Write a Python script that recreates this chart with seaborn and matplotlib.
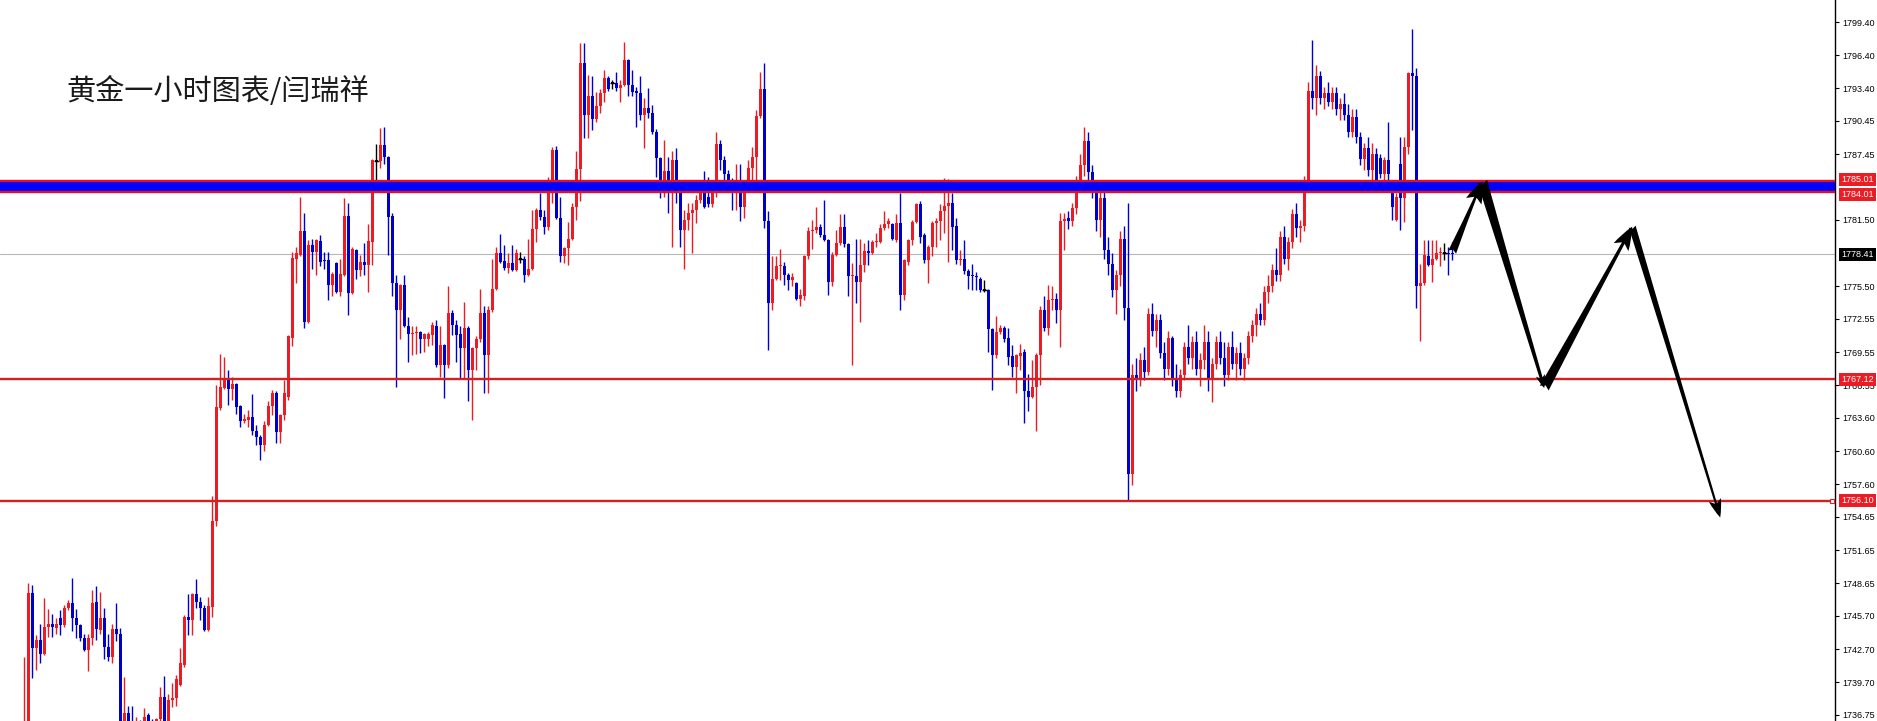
import numpy as np
import pandas as pd
import matplotlib
matplotlib.use("Agg")
import matplotlib.pyplot as plt
import matplotlib.transforms as mtransforms
import seaborn as sns

# hourly gold candles (one entry per candle)
opens = [
    1733.0, 1734.0, 1747.8, 1742.8, 1743.5, 1742.3, 1744.7, 1745.0, 1744.6, 1745.5,
    1744.9, 1746.4, 1746.9, 1745.5, 1744.9, 1743.7, 1742.6, 1743.7, 1747.0, 1744.4,
    1745.5, 1742.9, 1742.0, 1744.5, 1744.1, 1735.8, 1736.9, 1736.0, 1735.5, 1735.8,
    1735.6, 1736.7, 1735.9, 1735.6, 1736.4, 1738.4, 1735.8, 1738.1, 1738.3, 1739.5,
    1741.3, 1745.6, 1745.3, 1747.7, 1747.0, 1746.4, 1744.4, 1746.5, 1754.3, 1764.5,
    1766.3, 1767.2, 1766.2, 1766.7, 1764.7, 1763.3, 1763.4, 1763.7, 1762.4, 1761.9,
    1761.2, 1763.0, 1764.7, 1765.9, 1762.3, 1763.9, 1765.5, 1770.8, 1778.0, 1778.3,
    1780.5, 1772.3, 1779.2, 1778.6, 1779.6, 1777.9, 1777.9, 1775.6, 1777.6, 1775.0,
    1776.5, 1781.9, 1774.9, 1778.8, 1777.0, 1777.7, 1777.4, 1779.5, 1786.8, 1786.8,
    1788.3, 1787.2, 1781.9, 1775.8, 1773.4, 1775.6, 1771.9, 1771.2, 1771.3, 1771.4,
    1770.7, 1770.7, 1771.1, 1771.9, 1768.4, 1770.2, 1768.4, 1773.1, 1772.0, 1771.2,
    1769.9, 1771.7, 1767.9, 1769.9, 1770.7, 1773.1, 1769.3, 1773.4, 1775.3, 1778.5,
    1777.8, 1777.2, 1777.6, 1777.0, 1778.0, 1778.0, 1776.5, 1777.1, 1780.7, 1782.4,
    1781.8, 1780.9, 1784.5, 1787.8, 1781.7, 1778.2, 1779.0, 1779.8, 1782.7, 1786.1,
    1795.7, 1791.0, 1792.7, 1790.6, 1791.8, 1793.0, 1794.3, 1793.9, 1793.9, 1793.4,
    1793.7, 1796.0, 1793.7, 1793.2, 1793.0, 1791.0, 1791.6, 1791.2, 1789.5, 1787.1,
    1785.1, 1785.9, 1785.0, 1786.9, 1784.5, 1780.6, 1781.5, 1782.1, 1782.4, 1783.3,
    1783.9, 1783.6, 1782.9, 1783.9, 1788.4, 1786.9, 1785.7, 1785.0, 1784.5, 1784.7,
    1782.7, 1784.4, 1786.2, 1787.2, 1790.9, 1793.3, 1781.4, 1774.0, 1776.2, 1777.3,
    1777.3, 1776.5, 1776.1, 1775.8, 1774.4, 1774.6, 1778.2, 1780.5, 1780.6, 1780.9,
    1780.1, 1779.7, 1775.9, 1778.3, 1779.4, 1780.9, 1779.3, 1776.4, 1776.4, 1775.9,
    1777.4, 1778.7, 1778.5, 1779.5, 1779.5, 1780.8, 1781.1, 1781.1, 1779.7, 1781.2,
    1774.7, 1777.7, 1779.7, 1781.3, 1782.9, 1780.1, 1777.9, 1779.1, 1781.2, 1781.4,
    1782.3, 1782.8, 1783.0, 1781.0, 1777.9, 1778.0, 1776.9, 1776.5, 1776.4, 1776.2,
    1775.2, 1775.2, 1771.6, 1769.3, 1771.4, 1771.7, 1770.8, 1769.2, 1768.2, 1769.2,
    1769.6, 1766.0, 1765.5, 1766.4, 1769.3, 1773.4, 1771.7, 1774.3, 1774.4, 1773.4,
    1781.4, 1781.7, 1781.4, 1782.6, 1784.8, 1786.5, 1788.6, 1785.8, 1784.2, 1781.5,
    1783.5, 1778.8, 1777.5, 1775.2, 1776.5, 1779.8, 1773.5, 1758.5, 1767.5, 1767.0,
    1768.8, 1767.8, 1773.0, 1771.5, 1772.5, 1769.5, 1768.0, 1770.8, 1767.2, 1766.0,
    1767.5, 1770.0, 1769.0, 1770.5, 1768.0, 1768.8, 1770.5, 1767.0, 1768.5, 1770.5,
    1769.0, 1767.5, 1770.0, 1768.5, 1769.5, 1768.0, 1769.0, 1771.0, 1772.0, 1773.0,
    1772.5, 1775.0, 1775.5, 1777.0, 1776.5, 1780.0, 1778.0, 1779.5, 1782.0, 1780.8,
    1781.0, 1785.0, 1793.2, 1792.5, 1794.5, 1792.5, 1793.0, 1792.2, 1793.0, 1791.5,
    1792.0, 1791.0, 1789.5, 1790.8, 1789.0, 1787.0, 1788.0, 1786.0, 1787.5, 1787.1,
    1785.7, 1786.9, 1783.9, 1781.5, 1786.6, 1783.5, 1788.1, 1794.8, 1794.5, 1775.5,
    1775.8, 1778.2, 1777.4, 1778.0, 1778.5, 1778.5, 1778.5, 1778.5,
]
highs = [
    1742.0, 1748.7, 1748.5, 1744.0, 1745.0, 1747.3, 1746.3, 1745.9, 1745.5, 1746.2,
    1746.7, 1747.1, 1749.1, 1746.3, 1745.0, 1744.1, 1744.1, 1748.0, 1748.4, 1747.9,
    1746.4, 1744.1, 1745.0, 1746.9, 1744.6, 1740.2, 1737.6, 1737.6, 1736.6, 1736.3,
    1737.4, 1736.9, 1736.4, 1736.5, 1739.3, 1740.3, 1738.6, 1739.6, 1740.4, 1742.8,
    1745.8, 1747.7, 1747.8, 1749.0, 1747.4, 1746.7, 1747.4, 1756.5, 1766.6, 1769.4,
    1769.1, 1767.9, 1767.3, 1766.8, 1764.8, 1764.0, 1764.3, 1765.8, 1763.0, 1762.1,
    1763.3, 1765.1, 1766.1, 1766.0, 1764.0, 1767.0, 1771.1, 1778.6, 1779.1, 1783.6,
    1782.1, 1779.7, 1779.8, 1779.8, 1780.1, 1778.6, 1778.6, 1776.8, 1777.7, 1778.0,
    1783.5, 1783.0, 1779.1, 1778.9, 1778.3, 1779.4, 1781.1, 1787.0, 1788.4, 1789.8,
    1789.9, 1787.3, 1782.1, 1776.5, 1775.7, 1776.5, 1772.7, 1771.9, 1771.9, 1771.5,
    1771.3, 1771.4, 1772.3, 1772.5, 1771.9, 1770.3, 1775.5, 1773.4, 1772.5, 1771.9,
    1774.1, 1771.9, 1770.0, 1771.0, 1775.3, 1773.7, 1773.7, 1778.0, 1779.1, 1780.2,
    1779.2, 1778.5, 1779.2, 1778.9, 1778.6, 1778.2, 1779.8, 1782.4, 1782.6, 1783.9,
    1782.4, 1785.4, 1788.1, 1788.2, 1783.6, 1779.1, 1781.3, 1783.0, 1787.7, 1797.5,
    1797.5, 1794.6, 1794.5, 1793.1, 1793.3, 1795.1, 1794.5, 1794.2, 1794.9, 1794.2,
    1797.6, 1796.1, 1795.1, 1793.5, 1794.5, 1792.5, 1793.4, 1791.9, 1789.7, 1787.2,
    1788.7, 1787.2, 1787.7, 1788.0, 1785.1, 1782.4, 1783.0, 1783.0, 1783.8, 1784.5,
    1785.9, 1785.4, 1784.5, 1789.5, 1788.7, 1787.3, 1786.0, 1785.3, 1786.6, 1786.6,
    1785.1, 1786.9, 1788.1, 1791.4, 1794.9, 1795.7, 1782.3, 1778.2, 1778.2, 1778.9,
    1777.7, 1776.7, 1776.7, 1775.9, 1775.3, 1778.3, 1780.9, 1781.5, 1782.7, 1781.1,
    1783.3, 1779.8, 1778.6, 1780.6, 1782.0, 1782.0, 1779.4, 1777.6, 1779.8, 1779.8,
    1779.4, 1779.7, 1779.7, 1780.3, 1781.1, 1782.3, 1781.7, 1781.2, 1782.0, 1783.9,
    1778.0, 1779.8, 1781.5, 1783.0, 1783.2, 1780.3, 1779.2, 1781.4, 1781.7, 1782.9,
    1785.3, 1785.2, 1783.9, 1781.7, 1778.8, 1779.7, 1777.1, 1777.5, 1776.8, 1776.3,
    1776.1, 1775.3, 1771.7, 1772.8, 1772.0, 1771.9, 1771.7, 1770.2, 1769.4, 1770.3,
    1769.8, 1767.6, 1768.8, 1769.5, 1773.7, 1774.6, 1775.6, 1775.5, 1774.9, 1782.1,
    1782.1, 1782.3, 1783.0, 1785.5, 1787.5, 1789.9, 1789.5, 1786.5, 1785.0, 1784.5,
    1784.0, 1780.0, 1778.5, 1777.0, 1780.5, 1781.0, 1783.0, 1768.5, 1769.0, 1769.5,
    1770.0, 1773.5, 1774.0, 1773.0, 1773.0, 1770.5, 1771.5, 1771.0, 1768.5, 1768.0,
    1770.5, 1772.0, 1771.0, 1771.5, 1769.5, 1772.0, 1771.5, 1769.0, 1771.0, 1771.5,
    1770.5, 1770.5, 1771.5, 1770.0, 1770.5, 1769.5, 1771.5, 1772.5, 1773.5, 1774.0,
    1775.5, 1776.5, 1777.5, 1779.0, 1780.5, 1781.0, 1780.0, 1782.5, 1783.0, 1781.5,
    1785.5, 1794.0, 1797.8, 1795.5, 1795.0, 1793.5, 1794.0, 1793.5, 1793.5, 1792.5,
    1793.0, 1792.0, 1791.5, 1791.5, 1789.5, 1788.5, 1789.0, 1788.5, 1788.0, 1787.5,
    1787.2, 1790.4, 1784.2, 1783.9, 1789.0, 1789.0, 1794.9, 1798.8, 1795.2, 1777.5,
    1779.7, 1779.7, 1779.7, 1779.7, 1779.1, 1779.4, 1779.1, 1779.5,
]
lows = [
    1732.0, 1733.0, 1740.1, 1740.8, 1741.4, 1742.2, 1743.8, 1743.8, 1744.1, 1744.0,
    1744.7, 1746.2, 1744.3, 1743.7, 1743.4, 1742.5, 1740.7, 1743.1, 1743.5, 1744.1,
    1741.8, 1741.6, 1741.4, 1743.4, 1734.0, 1735.0, 1735.2, 1735.0, 1735.0, 1735.0,
    1735.2, 1735.5, 1735.2, 1735.3, 1736.0, 1735.3, 1735.5, 1737.5, 1737.6, 1739.4,
    1741.1, 1744.0, 1744.0, 1746.4, 1745.3, 1744.3, 1744.3, 1745.6, 1753.8, 1764.3,
    1766.2, 1764.8, 1765.2, 1764.0, 1762.8, 1763.1, 1762.8, 1762.1, 1761.2, 1759.8,
    1760.6, 1762.9, 1763.9, 1761.3, 1761.3, 1763.4, 1765.2, 1770.1, 1775.8, 1778.2,
    1771.7, 1772.2, 1777.1, 1776.5, 1777.3, 1777.1, 1774.3, 1774.6, 1774.9, 1774.6,
    1776.4, 1772.9, 1774.8, 1776.2, 1776.4, 1776.5, 1775.0, 1777.4, 1785.0, 1786.2,
    1786.6, 1778.3, 1774.6, 1766.4, 1770.7, 1771.8, 1768.7, 1769.3, 1769.4, 1769.5,
    1769.6, 1770.1, 1770.2, 1768.2, 1767.3, 1765.4, 1768.1, 1771.1, 1768.7, 1767.2,
    1767.2, 1765.1, 1763.4, 1767.9, 1770.5, 1765.9, 1765.9, 1773.2, 1775.2, 1777.6,
    1777.0, 1776.7, 1776.9, 1776.9, 1777.6, 1775.9, 1776.4, 1777.0, 1779.5, 1781.5,
    1780.2, 1780.6, 1783.0, 1781.6, 1777.7, 1777.6, 1777.4, 1779.7, 1781.5, 1783.2,
    1788.9, 1788.9, 1789.6, 1790.4, 1791.2, 1792.2, 1793.2, 1793.3, 1793.2, 1792.2,
    1793.6, 1792.7, 1792.7, 1789.9, 1790.5, 1788.0, 1790.7, 1789.3, 1785.4, 1783.5,
    1783.6, 1782.1, 1779.1, 1783.0, 1779.1, 1777.1, 1780.6, 1778.5, 1781.2, 1783.0,
    1782.6, 1782.7, 1782.7, 1783.6, 1786.0, 1784.8, 1784.2, 1782.4, 1782.4, 1781.4,
    1781.7, 1784.2, 1785.1, 1785.1, 1790.7, 1780.8, 1769.7, 1773.4, 1776.1, 1776.1,
    1775.6, 1775.2, 1775.5, 1774.3, 1773.7, 1774.3, 1778.0, 1778.9, 1780.3, 1780.0,
    1779.6, 1774.7, 1775.5, 1778.2, 1779.2, 1779.1, 1774.6, 1768.4, 1774.0, 1772.3,
    1776.8, 1777.4, 1778.4, 1779.1, 1779.4, 1780.6, 1780.8, 1779.7, 1779.5, 1773.4,
    1774.3, 1777.4, 1779.2, 1781.2, 1779.4, 1777.6, 1775.8, 1778.2, 1779.1, 1779.7,
    1780.3, 1777.7, 1778.8, 1777.5, 1777.4, 1776.6, 1775.3, 1775.2, 1775.2, 1775.0,
    1775.0, 1769.6, 1766.1, 1769.0, 1771.2, 1770.5, 1768.4, 1767.3, 1765.9, 1767.9,
    1763.1, 1764.2, 1765.4, 1762.4, 1766.6, 1771.5, 1771.1, 1773.4, 1772.2, 1770.0,
    1778.8, 1780.7, 1781.0, 1782.0, 1784.0, 1785.5, 1785.0, 1783.5, 1780.5, 1780.0,
    1778.0, 1776.5, 1774.5, 1773.0, 1775.5, 1772.5, 1756.2, 1757.5, 1766.0, 1766.5,
    1767.0, 1767.5, 1771.0, 1770.0, 1769.0, 1767.0, 1767.5, 1766.5, 1765.5, 1765.5,
    1767.0, 1768.5, 1768.0, 1767.5, 1766.5, 1768.0, 1766.0, 1765.0, 1768.0, 1768.5,
    1766.5, 1767.0, 1768.0, 1767.0, 1767.5, 1767.0, 1768.5, 1770.5, 1771.0, 1772.0,
    1772.0, 1774.0, 1775.0, 1776.0, 1776.0, 1777.5, 1777.0, 1779.0, 1780.0, 1779.5,
    1780.5, 1784.5, 1791.5, 1791.0, 1792.0, 1791.5, 1791.8, 1791.5, 1791.0, 1790.5,
    1790.5, 1789.0, 1789.0, 1788.5, 1786.5, 1786.0, 1785.5, 1784.0, 1784.5, 1785.3,
    1784.2, 1784.5, 1781.5, 1781.4, 1780.6, 1781.3, 1787.5, 1789.6, 1773.5, 1770.6,
    1775.6, 1777.3, 1775.9, 1777.9, 1777.3, 1777.9, 1776.5, 1777.9,
]
closes = [
    1735.0, 1747.8, 1742.8, 1743.5, 1742.3, 1744.7, 1745.0, 1744.7, 1745.0, 1744.9,
    1746.4, 1746.9, 1745.5, 1744.9, 1743.7, 1742.6, 1743.7, 1746.9, 1744.5, 1745.5,
    1742.9, 1742.0, 1744.5, 1744.1, 1735.5, 1736.9, 1736.0, 1735.5, 1735.8, 1735.6,
    1736.6, 1735.9, 1735.6, 1736.4, 1738.4, 1735.8, 1738.1, 1738.3, 1740.0, 1741.4,
    1745.6, 1745.3, 1747.7, 1747.0, 1746.4, 1744.4, 1746.6, 1754.3, 1764.6, 1766.4,
    1767.2, 1766.2, 1766.7, 1764.6, 1763.3, 1763.5, 1763.7, 1762.4, 1761.9, 1761.2,
    1763.0, 1764.7, 1765.9, 1762.3, 1763.9, 1765.9, 1771.0, 1778.1, 1778.5, 1780.5,
    1772.3, 1779.2, 1778.6, 1779.7, 1777.7, 1777.8, 1775.6, 1776.6, 1775.0, 1776.6,
    1781.9, 1774.9, 1778.9, 1777.0, 1777.7, 1777.4, 1779.6, 1786.9, 1786.8, 1788.3,
    1787.2, 1781.8, 1775.8, 1773.4, 1775.6, 1771.9, 1771.2, 1771.3, 1771.4, 1770.7,
    1771.2, 1771.2, 1772.0, 1768.4, 1770.2, 1768.4, 1773.1, 1772.0, 1771.1, 1769.9,
    1771.7, 1767.9, 1769.9, 1770.7, 1773.1, 1769.3, 1773.4, 1775.3, 1778.5, 1777.7,
    1777.2, 1777.6, 1777.0, 1778.5, 1778.0, 1776.5, 1777.1, 1780.7, 1782.4, 1781.8,
    1780.9, 1784.5, 1787.8, 1781.7, 1778.2, 1779.0, 1779.8, 1782.7, 1786.1, 1795.7,
    1791.0, 1792.7, 1790.6, 1791.8, 1793.0, 1794.3, 1793.3, 1793.9, 1793.4, 1793.7,
    1796.0, 1793.7, 1793.1, 1793.0, 1791.0, 1791.6, 1791.2, 1789.5, 1787.1, 1785.1,
    1785.9, 1785.0, 1786.9, 1784.5, 1780.6, 1781.5, 1782.1, 1782.4, 1783.3, 1783.9,
    1782.7, 1782.9, 1783.9, 1788.4, 1786.9, 1785.7, 1785.0, 1784.5, 1784.7, 1782.7,
    1784.4, 1786.2, 1787.2, 1790.9, 1793.3, 1781.4, 1774.0, 1776.2, 1777.3, 1777.4,
    1776.5, 1776.1, 1776.3, 1774.4, 1774.7, 1778.2, 1780.5, 1780.6, 1780.9, 1780.1,
    1779.7, 1775.9, 1778.3, 1779.4, 1780.9, 1779.3, 1776.4, 1776.5, 1775.9, 1777.4,
    1778.7, 1778.5, 1779.5, 1779.6, 1780.8, 1781.1, 1781.4, 1779.8, 1781.2, 1774.7,
    1777.9, 1779.7, 1781.3, 1782.9, 1780.0, 1777.9, 1779.1, 1781.2, 1781.4, 1782.3,
    1782.8, 1783.0, 1780.9, 1777.9, 1778.0, 1776.9, 1776.4, 1776.4, 1776.3, 1775.2,
    1775.2, 1771.6, 1769.3, 1771.4, 1771.7, 1770.7, 1769.1, 1768.2, 1769.3, 1769.5,
    1766.0, 1765.5, 1766.4, 1769.3, 1773.4, 1771.7, 1774.3, 1774.4, 1773.4, 1781.4,
    1781.6, 1781.4, 1782.6, 1784.8, 1786.5, 1788.6, 1785.8, 1784.2, 1781.5, 1783.5,
    1778.8, 1777.5, 1775.2, 1776.5, 1779.8, 1773.5, 1758.5, 1767.5, 1767.0, 1768.8,
    1767.8, 1773.0, 1771.5, 1772.5, 1769.5, 1768.0, 1770.8, 1767.2, 1766.0, 1767.5,
    1770.0, 1769.0, 1770.5, 1768.0, 1768.8, 1770.5, 1767.0, 1768.5, 1770.5, 1769.0,
    1767.5, 1770.0, 1768.5, 1769.5, 1768.0, 1769.0, 1771.0, 1772.0, 1773.0, 1772.5,
    1775.0, 1775.5, 1777.0, 1776.5, 1780.0, 1778.0, 1779.5, 1782.0, 1780.8, 1781.0,
    1785.0, 1793.2, 1792.5, 1794.5, 1792.5, 1793.0, 1792.2, 1793.0, 1791.5, 1792.0,
    1791.0, 1789.5, 1790.8, 1789.0, 1787.0, 1788.0, 1786.0, 1787.5, 1785.0, 1785.7,
    1786.9, 1785.7, 1782.7, 1783.6, 1783.5, 1788.1, 1794.8, 1794.5, 1775.5, 1775.8,
    1778.3, 1777.4, 1778.0, 1778.5, 1778.6, 1778.5, 1778.4, 1778.41,
]

# levels drawn on the chart
band_low, band_high = 1784.01, 1785.01
support_1 = 1767.12
support_2 = 1756.10
last_price = 1778.41
axis_ticks = [1799.40, 1796.40, 1793.40, 1790.45, 1787.45, 1781.50, 1775.50,
              1772.55, 1769.55, 1766.55, 1763.60, 1760.60, 1757.60, 1754.65,
              1751.65, 1748.65, 1745.70, 1742.70, 1739.70, 1736.75]

# forecast path (candle index, price)
path_x = [357, 364.5, 380, 402, 424]
path_y = [1778.6, 1785.0, 1766.3, 1780.9, 1754.6]

title = "黄金一小时图表/闫瑞祥"

sns.set_style("white")
plt.rcParams['font.family'] = ['Liberation Sans', 'Noto Sans CJK SC', 'DejaVu Sans']

RED = '#ec1c24'
BLUE = '#0000cc'

df = pd.DataFrame({'open': opens, 'high': highs, 'low': lows, 'close': closes})
df['idx'] = np.arange(len(df))
df['color'] = np.where(df.close > df.open, RED, np.where(df.close < df.open, BLUE, 'black'))

fig = plt.figure(figsize=(18.77, 7.21), dpi=100)
ax = fig.add_axes([0, 0, 1835 / 1877, 1])

# current price line under the candles
ax.axhline(last_price, color='#b8b8b8', lw=0.8, zorder=1)

# wicks and bodies
ax.vlines(df.idx, df.low, df.high, colors=df.color, lw=1.0, zorder=2)
body = (df.close - df.open).abs().clip(lower=0.1)
ax.bar(df.idx, body, bottom=np.minimum(df.open, df.close), width=0.82,
       color=df.color, linewidth=0, zorder=3)
flat = df[df.close == df.open]
ax.hlines(flat.close, flat.idx - 0.6, flat.idx + 0.6, colors='black', lw=1.0, zorder=3)

# resistance band and support lines
ax.axhspan(band_low, band_high, color='#0000ff', lw=0, zorder=4)
for lvl in (band_low, band_high):
    ax.axhline(lvl, color='#e0102a', lw=1.7, zorder=5)
for lvl in (support_1, support_2):
    ax.axhline(lvl, color='#d42020', lw=1.7, zorder=5)

# forecast arrows
widths = [(1.0, 1.3, 0.5), (0.55, 0.8, 0.6), (1.0, 1.4, 0.6), (0.75, 1.1, 0.42)]
for k, (hw, hl, tw) in enumerate(widths):
    ax.annotate("", xy=(path_x[k + 1], path_y[k + 1]), xytext=(path_x[k], path_y[k]),
                arrowprops=dict(arrowstyle=f"fancy,head_width={hw},head_length={hl},tail_width={tw}",
                                mutation_scale=12, color='black', lw=0,
                                shrinkA=0, shrinkB=0),
                zorder=6)

ax.set_xlim(-6.075, 452.7)
ax.set_ylim(1736.2, 1801.39)
ax.set_xticks([])
ax.set_yticks(axis_ticks)
ax.set_yticklabels([f"{t:.2f}" for t in axis_ticks])
ax.yaxis.tick_right()
ax.tick_params(axis='y', direction='out', length=3, width=0.8, pad=2,
               labelsize=6.5, colors='black')
for side in ('top', 'left', 'bottom'):
    ax.spines[side].set_visible(False)
ax.spines['right'].set_color('black')
ax.spines['right'].set_linewidth(1.0)

# price tags on the axis
trans = mtransforms.blended_transform_factory(ax.transAxes, ax.transData)
tags = [(band_high, RED, 0.18), (band_low, RED, -0.18), (last_price, 'black', 0),
        (support_1, RED, 0), (support_2, RED, 0)]
for price, fc, dy in tags:
    ax.text(1.0035, price + dy, f"{price:.2f}", transform=trans, ha='left', va='center',
            fontsize=6.5, color='white', clip_on=False, zorder=7,
            bbox=dict(boxstyle='square,pad=0.22', fc=fc, ec='none'))
ax.plot([451.9], [support_2], marker='s', ms=3, mfc='white', mec=RED, mew=0.8,
        clip_on=False, zorder=8)

fig.text(66 / 1877, 1 - 92 / 721, title, fontsize=21, color='#1a1a1a',
         family=['Noto Sans CJK SC', 'DejaVu Sans'], ha='left', va='center')

fig.savefig('out.png', dpi=100)
